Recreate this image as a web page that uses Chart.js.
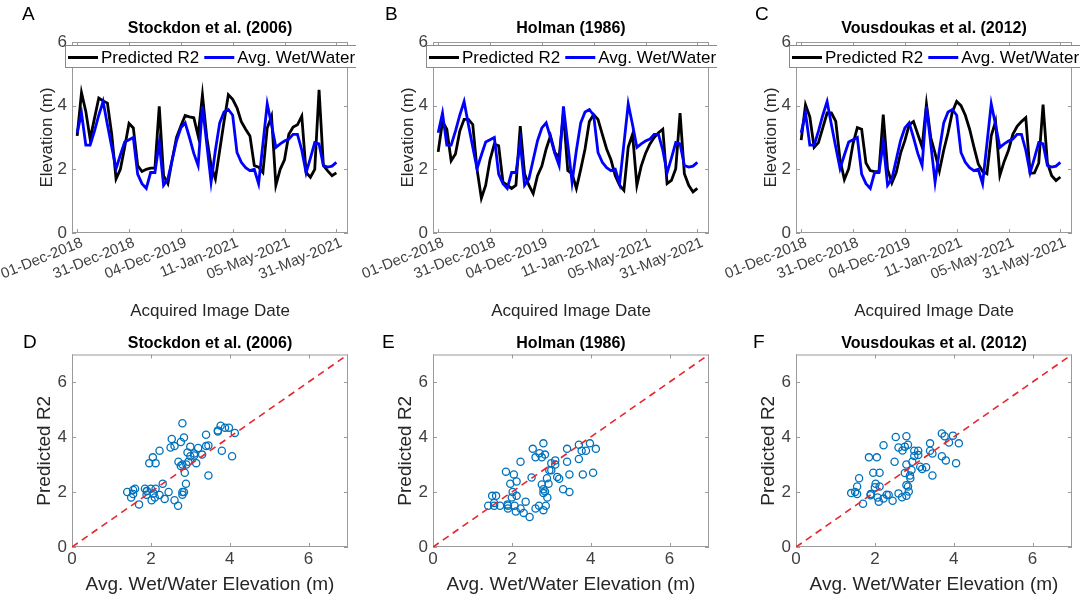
<!DOCTYPE html>
<html>
<head>
<meta charset="utf-8">
<script src="https://cdn.jsdelivr.net/npm/chart.js@4.4.1/dist/chart.umd.min.js"></script>
<style>
  body { margin: 0; background: #fff; width: 1080px; height: 600px; overflow: hidden; position: relative; }
  canvas { position: absolute; }
</style>
</head>
<body>
<canvas id="cA" width="356" height="325" style="left:0px;top:0px"></canvas>
<canvas id="cB" width="356" height="325" style="left:361px;top:0px"></canvas>
<canvas id="cC" width="356" height="325" style="left:724px;top:0px"></canvas>
<canvas id="cD" width="356" height="280" style="left:0px;top:320px"></canvas>
<canvas id="cE" width="356" height="280" style="left:361px;top:320px"></canvas>
<canvas id="cF" width="356" height="280" style="left:724px;top:320px"></canvas>
<script>
// Tick positions (image index) and their date labels
const tickIdx = [0, 12, 24, 36, 48, 60];
const dateLabels = ['01-Dec-2018', '31-Dec-2018', '04-Dec-2019', '11-Jan-2021', '05-May-2021', '31-May-2021'];

// Avg. Wet/Water elevation (same in all three panels)
const avgWetWater = [3.15, 3.77, 2.76, 2.76, 3.2, 3.7, 4.13, 3.4, 2.7, 2.02, 2.45, 2.86, 2.93, 3.0, 1.85, 1.55, 1.4, 1.9, 1.9, 2.84,
  1.5, 1.7, 2.3, 2.9, 3.3, 3.46, 3.0, 2.5, 2.12, 3.98, 2.8, 1.6, 2.6, 3.46, 3.8, 3.88, 3.7, 2.53, 2.22, 2.05,
  1.96, 2.0, 1.55, 2.8, 4.06, 3.4, 2.69, 2.8, 2.89, 2.95, 3.1, 3.1, 2.6, 1.89, 2.35, 2.84, 2.8, 2.12, 2.07, 2.1, 2.22];

// Predicted R2 per formula
const r2Stockdon = [3.05, 4.41, 3.82, 2.95, 3.6, 4.24, 4.15, 4.08, 3.1, 1.7, 2.0, 2.7, 3.44, 3.3, 2.12, 1.93, 2.0, 2.04, 2.04, 3.98,
  1.8, 1.55, 2.3, 3.0, 3.36, 3.69, 3.65, 3.62, 3.05, 4.34, 3.0, 2.12, 1.7, 2.6, 3.5, 4.34, 4.2, 3.93, 3.5, 3.26,
  3.05, 2.12, 2.07, 1.9, 3.3, 3.67, 1.5, 2.0, 2.3, 3.1, 3.33, 3.4, 3.67, 1.9, 1.75, 2.0, 4.5, 2.12, 1.95, 1.8, 1.89];
const r2Holman = [2.55, 3.5, 3.26, 2.27, 2.48, 3.2, 3.57, 3.57, 3.41, 2.0, 1.09, 1.5, 2.3, 2.79, 2.74, 1.6, 1.5, 1.4, 1.5, 3.36,
  1.86, 1.5, 1.24, 1.8, 2.1, 2.64, 3.05, 2.53, 2.38, 3.77, 1.96, 1.86, 1.4, 2.0, 2.64, 3.5, 3.72, 3.57, 3.1, 2.64,
  2.3, 1.8, 1.5, 1.34, 2.7, 3.1, 1.5, 2.1, 2.5, 2.79, 3.0, 3.15, 3.26, 1.55, 1.65, 2.02, 3.77, 1.86, 1.5, 1.29, 1.4];
const r2Vousdoukas = [2.92, 4.03, 3.65, 2.69, 2.84, 3.3, 3.77, 3.77, 3.51, 2.3, 1.68, 2.02, 2.8, 3.31, 3.26, 2.2, 1.96, 1.93, 1.93, 3.72,
  2.0, 1.57, 1.9, 2.5, 2.9, 3.4, 3.5, 3.1, 2.7, 4.05, 3.0, 2.5, 1.95, 2.6, 3.15, 3.8, 4.13, 4.0, 3.7, 3.26,
  2.7, 2.17, 1.93, 1.86, 3.05, 3.5, 1.81, 2.25, 2.6, 3.1, 3.35, 3.5, 3.62, 1.88, 1.89, 2.2, 4.03, 2.2, 1.8, 1.65, 1.76];

const oneToOne = [0, 7];

Chart.defaults.font.family = '"Liberation Sans", Arial, sans-serif';
Chart.defaults.color = '#262626';
Chart.defaults.animation = false;

const axisGray = '#9a9a9a';

// MATLAB-like box with inward ticks
const boxPlugin = {
    id: 'matlabBox',
    beforeDatasetsDraw(chart) {
        const { ctx, chartArea: a } = chart;
        const xs = chart.scales.x, ys = chart.scales.y;
        ctx.save();
        ctx.strokeStyle = axisGray;
        ctx.lineWidth = 1;
        ctx.strokeRect(a.left + 0.5, a.top + 0.5, a.right - a.left - 1, a.bottom - a.top - 1);
        ctx.beginPath();
        xs.ticks.forEach(t => {
            const px = Math.round(xs.getPixelForValue(t.value)) + 0.5;
            ctx.moveTo(px, a.bottom); ctx.lineTo(px, a.bottom - 4);
            ctx.moveTo(px, a.top); ctx.lineTo(px, a.top + 4);
        });
        ys.ticks.forEach(t => {
            const py = Math.round(ys.getPixelForValue(t.value)) + 0.5;
            ctx.moveTo(a.left, py); ctx.lineTo(a.left + 4, py);
            ctx.moveTo(a.right, py); ctx.lineTo(a.right - 4, py);
        });
        ctx.stroke();
        ctx.restore();
    }
};

// Panel letter + title centred on the plot area
const panelTextPlugin = {
    id: 'panelText',
    afterDraw(chart, args, opts) {
        const { ctx, chartArea: a } = chart;
        ctx.save();
        ctx.fillStyle = '#000';
        ctx.textBaseline = 'middle';
        ctx.font = '19px "Liberation Sans", Arial, sans-serif';
        ctx.textAlign = 'left';
        ctx.fillText(opts.letter, opts.letterX, opts.letterY);
        ctx.font = 'bold 16px "Liberation Sans", Arial, sans-serif';
        ctx.textAlign = 'center';
        ctx.fillText(opts.title, (a.left + a.right) / 2, opts.titleY);
        ctx.restore();
    }
};

// Horizontal legend box sitting at the top of the plot area
const boxLegendPlugin = {
    id: 'boxLegend',
    afterDraw(chart, args, opts) {
        if (!opts.show) return;
        const { ctx, chartArea: a } = chart;
        const sets = chart.data.datasets;
        ctx.save();
        ctx.font = '17px "Liberation Sans", Arial, sans-serif';
        const lineLen = 30;
        let w = 3;
        sets.forEach((ds, i) => { w += lineLen + 3 + ctx.measureText(ds.label).width + (i < sets.length - 1 ? 5 : 4); });
        const x0 = a.left - 7, y0 = a.top + 3, h = 23;
        ctx.fillStyle = '#fff';
        ctx.fillRect(x0, y0, w, h);
        ctx.strokeStyle = '#8a8a8a';
        ctx.lineWidth = 1;
        ctx.strokeRect(x0 + 0.5, y0 + 0.5, w - 1, h - 1);
        let x = x0 + 3;
        const ym = y0 + h / 2 + 1;
        ctx.textBaseline = 'middle';
        ctx.textAlign = 'left';
        sets.forEach(ds => {
            ctx.strokeStyle = ds.borderColor;
            ctx.lineWidth = 3;
            ctx.beginPath();
            ctx.moveTo(x, ym); ctx.lineTo(x + lineLen, ym);
            ctx.stroke();
            x += lineLen + 3;
            ctx.fillStyle = '#000';
            ctx.fillText(ds.label, x, ym + 1);
            x += ctx.measureText(ds.label).width + 5;
        });
        ctx.restore();
    }
};

function seriesFrom(values) {
    return values.map((v, i) => ({ x: i, y: v }));
}

function timePanel(id, letter, letterX, title, predicted) {
    new Chart(document.getElementById(id), {
        type: 'line',
        data: {
            datasets: [
                { label: 'Predicted R2', data: seriesFrom(predicted), borderColor: '#000', borderWidth: 2.8, pointRadius: 0, order: 1 },
                { label: 'Avg. Wet/Water', data: seriesFrom(avgWetWater), borderColor: '#0000ff', borderWidth: 2.8, pointRadius: 0, order: 0 }
            ]
        },
        options: {
            responsive: false,
            devicePixelRatio: 1,
            layout: { padding: { top: 42, left: 0, right: 8, bottom: 0 } },
            plugins: {
                legend: { display: false },
                tooltip: { enabled: false },
                panelText: { letter: letter, letterX: letterX, letterY: 15, title: title, titleY: 29 },
                boxLegend: { show: true }
            },
            scales: {
                x: {
                    type: 'linear', min: -1.2, max: 62.7,
                    afterBuildTicks: s => { s.ticks = tickIdx.map(v => ({ value: v })); },
                    afterFit: s => { s.height = 92; s.paddingLeft = 0; s.paddingRight = 0; },
                    grid: { display: false, drawTicks: false },
                    border: { display: false },
                    ticks: {
                        autoSkip: false, minRotation: 22, maxRotation: 22, padding: 1, labelOffset: 5,
                        color: '#404040', font: { size: 15 },
                        callback: (v, i) => dateLabels[i]
                    },
                    title: { display: true, text: 'Acquired Image Date', font: { size: 17 }, color: '#262626', padding: { top: 0, bottom: 3 } }
                },
                y: {
                    min: 0, max: 6,
                    afterFit: s => { s.width = 72; s.paddingTop = 0; s.paddingBottom = 0; },
                    grid: { display: false, drawTicks: false },
                    border: { display: false },
                    ticks: { stepSize: 2, padding: 5, color: '#404040', font: { size: 17 } },
                    title: { display: true, text: 'Elevation (m)', font: { size: 17 }, color: '#262626', padding: { top: 37, bottom: 0 } }
                }
            }
        },
        plugins: [boxPlugin, panelTextPlugin, boxLegendPlugin]
    });
}

function scatterPanel(id, letter, letterX, title, predicted) {
    const pts = avgWetWater.map((b, i) => ({ x: b, y: predicted[i] }));
    new Chart(document.getElementById(id), {
        type: 'scatter',
        data: {
            datasets: [
                { label: '1:1', type: 'line', data: oneToOne.map(v => ({ x: v, y: v })), borderColor: '#e8262d', borderWidth: 1.6, borderDash: [7, 5], pointRadius: 0, order: 0 },
                { label: 'points', data: pts, borderColor: '#0072bd', backgroundColor: 'rgba(0,0,0,0)', borderWidth: 1.3, pointRadius: 3.6, order: 1 }
            ]
        },
        options: {
            responsive: false,
            devicePixelRatio: 1,
            layout: { padding: { top: 34.5, left: 0, right: 8, bottom: 0 } },
            plugins: {
                legend: { display: false },
                tooltip: { enabled: false },
                panelText: { letter: letter, letterX: letterX, letterY: 23, title: title, titleY: 24 },
                boxLegend: { show: false }
            },
            scales: {
                x: {
                    type: 'linear', min: 0, max: 7,
                    afterFit: s => { s.height = 53; s.paddingLeft = 0; s.paddingRight = 0; },
                    grid: { display: false, drawTicks: false },
                    border: { display: false },
                    ticks: { stepSize: 2, includeBounds: false, padding: 2, color: '#404040', font: { size: 17 } },
                    title: { display: true, text: 'Avg. Wet/Water Elevation (m)', font: { size: 19 }, color: '#262626', padding: { top: 0, bottom: 3.6 } }
                },
                y: {
                    type: 'linear', min: 0, max: 7,
                    afterFit: s => { s.width = 72; s.paddingTop = 0; s.paddingBottom = 0; },
                    grid: { display: false, drawTicks: false },
                    border: { display: false },
                    ticks: { stepSize: 2, includeBounds: false, padding: 5, color: '#404040', font: { size: 17 } },
                    title: { display: true, text: 'Predicted R2', font: { size: 19 }, color: '#262626', padding: { top: 33.6, bottom: 0 } }
                }
            }
        },
        plugins: [boxPlugin, panelTextPlugin]
    });
}

document.addEventListener('DOMContentLoaded', () => {
    timePanel('cA', 'A', 22, 'Stockdon et al. (2006)', r2Stockdon);
    timePanel('cB', 'B', 24, 'Holman (1986)', r2Holman);
    timePanel('cC', 'C', 31, 'Vousdoukas et al. (2012)', r2Vousdoukas);
    scatterPanel('cD', 'D', 23, 'Stockdon et al. (2006)', r2Stockdon);
    scatterPanel('cE', 'E', 21, 'Holman (1986)', r2Holman);
    scatterPanel('cF', 'F', 29, 'Vousdoukas et al. (2012)', r2Vousdoukas);
});
</script>
</body>
</html>
